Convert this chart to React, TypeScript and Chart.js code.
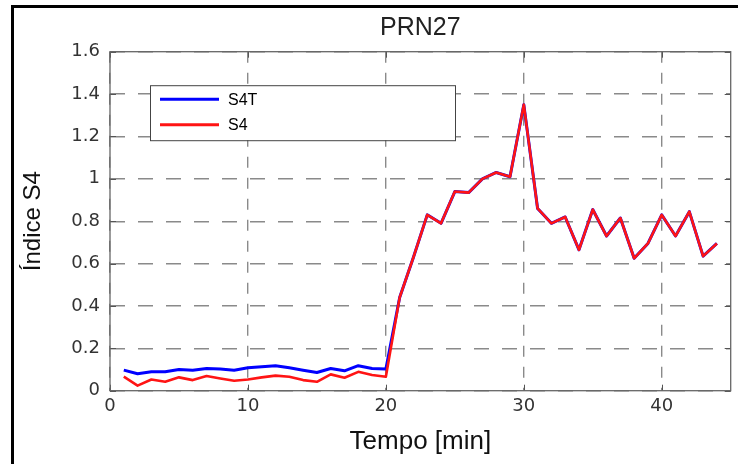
import React, { useEffect, useRef } from "react";
import { Chart, registerables } from "chart.js";

Chart.register(...registerables);

// ---- data ----
const time = [
  1, 2, 3, 4, 5, 6, 7, 8, 9, 10, 11, 12, 13, 14, 15, 16, 17, 18, 19, 20, 21, 22,
  23, 24, 25, 26, 27, 28, 29, 30, 31, 32, 33, 34, 35, 36, 37, 38, 39, 40, 41, 42, 43, 44,
];
const s4t = [
  0.097, 0.08, 0.089, 0.089, 0.1, 0.097, 0.105, 0.102, 0.097, 0.108, 0.113, 0.118,
  0.108, 0.097, 0.086, 0.105, 0.094, 0.118, 0.105, 0.102, 0.44, 0.63, 0.83, 0.79,
  0.94, 0.935, 1.0, 1.03, 1.01, 1.35, 0.86, 0.79, 0.82, 0.665, 0.855, 0.73, 0.815,
  0.625, 0.695, 0.83, 0.73, 0.845, 0.635, 0.695,
];
const s4 = [
  0.066, 0.024, 0.053, 0.042, 0.063, 0.05, 0.069, 0.058, 0.047, 0.053, 0.063, 0.071,
  0.066, 0.05, 0.042, 0.077, 0.061, 0.089, 0.074, 0.066, 0.44, 0.63, 0.83, 0.79,
  0.94, 0.935, 1.0, 1.03, 1.01, 1.35, 0.86, 0.79, 0.82, 0.665, 0.855, 0.73, 0.815,
  0.625, 0.695, 0.83, 0.73, 0.845, 0.635, 0.695,
];
const seriesNames = ["S4T", "S4"];
const xTicks = [0, 10, 20, 30, 40];
const xTickLabels = ["0", "10", "20", "30", "40"];
const yTicks = [0, 0.2, 0.4, 0.6, 0.8, 1, 1.2, 1.4, 1.6];
const yTickLabels = ["0", "0.2", "0.4", "0.6", "0.8", "1", "1.2", "1.4", "1.6"];
const titleText = "PRN27";
const xTitle = "Tempo [min]";
const yTitle = "Índice S4";

const W = 738;
const H = 464;

const boxPlugin = {
  id: "matlabBox",
  afterDraw(chart: any) {
    const { ctx, chartArea: a, scales } = chart;
    ctx.save();
    // inner tick marks
    ctx.strokeStyle = "#555";
    ctx.lineWidth = 1;
    const tl = 6;
    ctx.beginPath();
    xTicks.forEach((v) => {
      const px = Math.round(scales.x.getPixelForValue(v)) + 0.5;
      ctx.moveTo(px, a.bottom);
      ctx.lineTo(px, a.bottom - tl);
      ctx.moveTo(px, a.top);
      ctx.lineTo(px, a.top + tl);
    });
    yTicks.forEach((v) => {
      const py = Math.round(scales.y.getPixelForValue(v)) + 0.5;
      ctx.moveTo(a.left, py);
      ctx.lineTo(a.left + tl, py);
      ctx.moveTo(a.right, py);
      ctx.lineTo(a.right - tl, py);
    });
    ctx.stroke();
    // axes box
    ctx.strokeStyle = "#666";
    ctx.lineWidth = 1.3;
    ctx.strokeRect(a.left, a.top, a.right - a.left, a.bottom - a.top);

    // legend box (matlab style, inside axes)
    const lx = a.left + 40;
    const ly = a.top + 33.5;
    const lw = 305;
    const lh = 55;
    ctx.fillStyle = "#ffffff";
    ctx.fillRect(lx, ly, lw, lh);
    ctx.strokeStyle = "#444";
    ctx.lineWidth = 1;
    ctx.strokeRect(lx + 0.5, ly + 0.5, lw, lh);
    const ds = chart.data.datasets;
    ds.forEach((d: any, i: number) => {
      const yy = ly + 14 + i * 25.5;
      ctx.strokeStyle = d.borderColor;
      ctx.lineWidth = 3;
      ctx.beginPath();
      ctx.moveTo(lx + 10, yy);
      ctx.lineTo(lx + 69, yy);
      ctx.stroke();
      ctx.fillStyle = "#000";
      ctx.font = "16px 'Liberation Sans', Arial, sans-serif";
      ctx.textBaseline = "middle";
      ctx.textAlign = "left";
      ctx.fillText(d.label, lx + 78, yy + 1);
    });
    ctx.restore();
  },
};

export default function App() {
  const ref = useRef<HTMLCanvasElement | null>(null);

  useEffect(() => {
    if (!ref.current) return;
    const chart = new Chart(ref.current, {
      type: "line",
      data: {
        datasets: [
          {
            label: seriesNames[0],
            data: time.map((t, i) => ({ x: t, y: s4t[i] })),
            borderColor: "#0000ff",
            backgroundColor: "#0000ff",
            borderWidth: 3,
            borderJoinStyle: "round",
            pointRadius: 0,
            tension: 0,
            order: 1,
          },
          {
            label: seriesNames[1],
            data: time.map((t, i) => ({ x: t, y: s4[i] })),
            borderColor: "#ff1414",
            backgroundColor: "#ff1414",
            borderWidth: 2.6,
            borderJoinStyle: "round",
            pointRadius: 0,
            tension: 0,
            order: 0,
          },
        ],
      },
      options: {
        responsive: false,
        animation: false,
        layout: { padding: { left: 0, top: 0, right: 7.3, bottom: 0 } },
        plugins: {
          legend: { display: false },
          tooltip: { enabled: false },
          title: {
            display: true,
            text: titleText,
            fullSize: false,
            color: "#222",
            font: { family: "'Liberation Sans', Arial, sans-serif", size: 25, weight: "normal" },
            padding: { top: 13, bottom: 8.7 },
          },
        },
        scales: {
          x: {
            type: "linear",
            min: 0,
            max: 45,
            afterBuildTicks: (scale: any) => {
              scale.ticks = xTicks.map((v) => ({ value: v }));
            },
            afterFit: (scale: any) => {
              scale.height = H - 390.7;
            },
            ticks: {
              color: "#333",
              font: { family: "'DejaVu Sans', sans-serif", size: 18 },
              padding: 5,
              maxRotation: 0,
              autoSkip: false,
              callback: (v: any) => {
                const i = xTicks.indexOf(Number(v));
                return i >= 0 ? xTickLabels[i] : "";
              },
            },
            grid: { color: "#8a8a8a", lineWidth: 1.4, drawTicks: false },
            border: { display: false, dash: [11, 10] },
            title: {
              display: true,
              text: xTitle,
              color: "#111",
              font: { family: "'Liberation Sans', Arial, sans-serif", size: 26 },
              padding: { top: 0, bottom: 7 },
            },
          },
          y: {
            type: "linear",
            min: 0,
            max: 1.6,
            afterBuildTicks: (scale: any) => {
              scale.ticks = yTicks.map((v) => ({ value: v }));
            },
            afterFit: (scale: any) => {
              scale.width = 110;
            },
            ticks: {
              color: "#333",
              font: { family: "'DejaVu Sans', sans-serif", size: 18 },
              padding: 10,
              autoSkip: false,
              callback: (v: any) => {
                const i = yTicks.findIndex((t) => Math.abs(t - Number(v)) < 1e-6);
                return i >= 0 ? yTickLabels[i] : "";
              },
            },
            grid: { color: "#8a8a8a", lineWidth: 1.4, drawTicks: false },
            border: { display: false, dash: [15, 13] },
            title: {
              display: true,
              text: yTitle,
              color: "#111",
              font: { family: "'Liberation Sans', Arial, sans-serif", size: 24 },
              padding: { top: 19, bottom: 0 },
            },
          },
        },
      },
      plugins: [boxPlugin],
    });
    return () => chart.destroy();
  }, []);

  return (
    <div style={{ position: "fixed", left: 0, top: 0, width: W, height: H, background: "#fff" }}>
      <canvas ref={ref} width={W} height={H} style={{ display: "block" }} />
      <div
        style={{
          position: "absolute",
          left: 11,
          top: 5,
          width: W - 11,
          height: H - 5,
          borderTop: "3px solid #000",
          borderLeft: "3px solid #000",
          boxSizing: "border-box",
          pointerEvents: "none",
        }}
      />
    </div>
  );
}
